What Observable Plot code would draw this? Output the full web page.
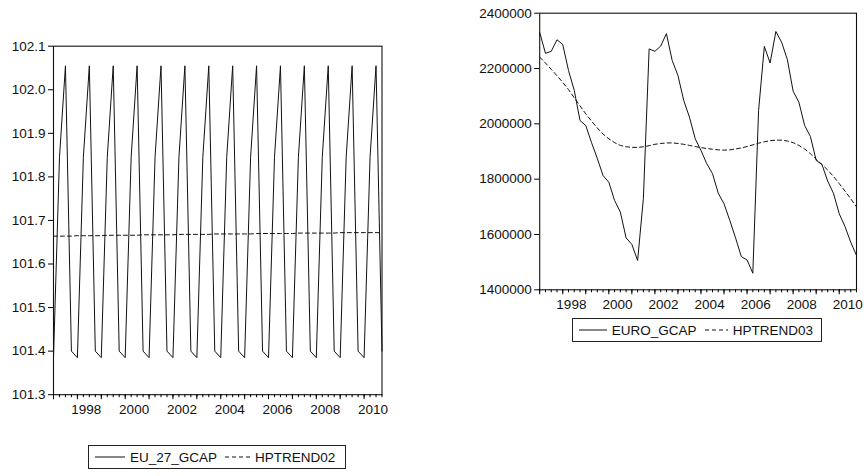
<!DOCTYPE html>
<html>
<head>
<meta charset="utf-8">
<script src="https://cdn.jsdelivr.net/npm/d3@7"></script>
<script src="https://cdn.jsdelivr.net/npm/@observablehq/plot@0.6"></script>
<style>
  html, body { margin: 0; padding: 0; background: #fff; }
  #page { position: relative; width: 865px; height: 476px; overflow: hidden; font-family: "Liberation Sans", Arial, sans-serif; color: #111; }
  .chart { position: absolute; top: 0; }
  .legend { position: absolute; border: 1px solid #222; height: 24px; display: flex; align-items: center; font-size: 13.5px; box-sizing: border-box; padding-left: 6px; white-space: nowrap; }
  .legend span { margin-right: 8px; }
  .legend svg { margin-right: 5px; }
</style>
</head>
<body>
<div id="page">
  <div id="left" class="chart" style="left:0px"></div>
  <div id="right" class="chart" style="left:440px"></div>
  <div id="legL" class="legend" style="left:88px; top:445px; width:258px;"></div>
  <div id="legR" class="legend" style="left:572px; top:318px; width:250px;"></div>
</div>
<script>
// ---- categories: quarterly observations 1997Q1 .. 2010Q4
const startYear = 1997;
const nObs = 56;
const quarters = Array.from({length: nObs}, (_, i) => startYear + i / 4);
const yearStarts = [1997,1998,1999,2000,2001,2002,2003,2004,2005,2006,2007,2008,2009,2010];
const yearLabels = [1998, 2000, 2002, 2004, 2006, 2008, 2010];

// ---- left chart series
const eu27Gcap = [
  101.385,101.845,102.055,101.400, 101.385,101.845,102.055,101.400,
  101.385,101.845,102.055,101.400, 101.385,101.845,102.055,101.400,
  101.385,101.845,102.055,101.400, 101.385,101.845,102.055,101.400,
  101.385,101.845,102.055,101.400, 101.385,101.845,102.055,101.400,
  101.385,101.845,102.055,101.400, 101.385,101.845,102.055,101.400,
  101.385,101.845,102.055,101.400, 101.385,101.845,102.055,101.400,
  101.385,101.845,102.055,101.400, 101.385,101.845,102.055,101.400
];
const hpTrend02 = [
  101.664,101.664,101.664,101.664,101.665,101.665,101.665,101.665,
  101.665,101.666,101.666,101.666,101.666,101.666,101.666,101.667,
  101.667,101.667,101.667,101.667,101.667,101.668,101.668,101.668,
  101.668,101.668,101.668,101.669,101.669,101.669,101.669,101.669,
  101.669,101.669,101.670,101.670,101.670,101.670,101.670,101.670,
  101.670,101.671,101.671,101.671,101.671,101.671,101.671,101.671,
  101.672,101.672,101.672,101.672,101.672,101.672,101.672,101.672
];
const yTicksLeft = [101.3,101.4,101.5,101.6,101.7,101.8,101.9,102.0,102.1];

// ---- right chart series
const euroGcap = [
  2330000,2255000,2262000,2304000,2287000,2193000,2121000,2012000,
  1994000,1932000,1875000,1813000,1789000,1723000,1681000,1588000,
  1564000,1506000,1730000,2271000,2262000,2281000,2326000,2229000,
  2175000,2085000,2024000,1946000,1904000,1856000,1820000,1749000,
  1711000,1651000,1588000,1520000,1508000,1460000,2048000,2280000,
  2220000,2334000,2295000,2232000,2118000,2078000,1994000,1954000,
  1868000,1853000,1793000,1749000,1675000,1629000,1572000,1524000
];
const hpTrend03 = [
  2241000,2220000,2197000,2174000,2150000,2124000,2094000,2065000,
  2036000,2010000,1985000,1963000,1946000,1932000,1922000,1917000,
  1915000,1915000,1917000,1921000,1926000,1929000,1931000,1931000,
  1929000,1926000,1922000,1918000,1914000,1911000,1908000,1906000,
  1905000,1906000,1909000,1913000,1918000,1924000,1930000,1935000,
  1939000,1941000,1941000,1938000,1932000,1922000,1909000,1892000,
  1872000,1853000,1833000,1810000,1784000,1757000,1729000,1700000
];
const yTicksRight = [1400000,1600000,1800000,2000000,2200000,2400000];

const font = "'Liberation Sans', Arial, sans-serif";

function xAxes() {
  return [
    Plot.axisX({ticks: quarters, tickSize: 3, tickFormat: () => "", stroke: "#000", label: null}),
    Plot.axisX({ticks: yearStarts, tickSize: 5, tickFormat: () => "", stroke: "#000", label: null}),
    Plot.axisX({ticks: yearLabels.map(y => y + 0.375), tickSize: 0, tickPadding: 10, label: null,
                tickFormat: d => String(Math.floor(d)), fill: "#111", fontSize: 13.5})
  ];
}

function makeChart({series, trend, yDomain, yTicks, yFormat, width, height, margins}) {
  const data = quarters.map((t, i) => ({t, v: series[i], h: trend[i]}));
  return Plot.plot({
    width, height,
    marginLeft: margins[0], marginRight: margins[1], marginTop: margins[2], marginBottom: margins[3],
    style: {fontFamily: font, fontSize: "13.5px", background: "white", color: "#111", overflow: "visible"},
    x: {type: "linear", domain: [startYear, startYear + (nObs - 1) / 4], label: null},
    y: {domain: yDomain, label: null},
    marks: [
      Plot.frame({stroke: "#111", strokeWidth: 1.1}),
      Plot.axisY({ticks: yTicks, tickSize: 5, tickPadding: 3, tickFormat: yFormat, fill: "#111", stroke: "#000", fontSize: 13.5, label: null}),
      ...xAxes(),
      Plot.line(data, {x: "t", y: "h", stroke: "#111", strokeWidth: 1, strokeDasharray: "4,3"}),
      Plot.line(data, {x: "t", y: "v", stroke: "#111", strokeWidth: 1})
    ]
  });
}

document.getElementById("left").appendChild(makeChart({
  series: eu27Gcap, trend: hpTrend02,
  yDomain: [101.3, 102.1], yTicks: yTicksLeft, yFormat: d3.format(".1f"),
  width: 400, height: 430, margins: [53, 18.5, 45.7, 35.8]
}));
document.getElementById("right").appendChild(makeChart({
  series: euroGcap, trend: hpTrend03,
  yDomain: [1400000, 2400000], yTicks: yTicksRight, yFormat: d3.format("d"),
  width: 425, height: 315, margins: [99.2, 9, 12.7, 25.7]
}));

function legend(el, names) {
  el.innerHTML =
    `<svg width="30" height="4"><line x1="0" x2="30" y1="2" y2="2" stroke="#111" stroke-width="1"/></svg>` +
    `<span>${names[0]}</span>` +
    `<svg width="25" height="4"><line x1="0" x2="25" y1="2" y2="2" stroke="#111" stroke-width="1" stroke-dasharray="4,3"/></svg>` +
    `<span>${names[1]}</span>`;
}
legend(document.getElementById("legL"), ["EU_27_GCAP", "HPTREND02"]);
legend(document.getElementById("legR"), ["EURO_GCAP", "HPTREND03"]);
</script>
</body>
</html>
